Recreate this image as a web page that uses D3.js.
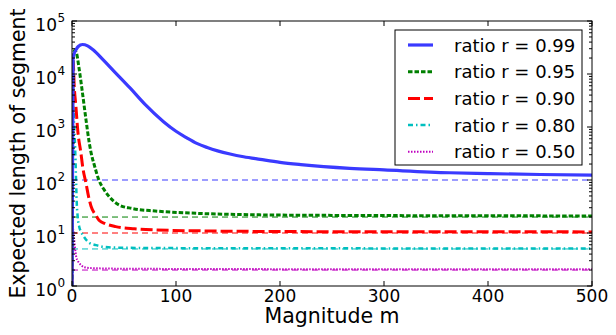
<!DOCTYPE html>
<html><head><meta charset="utf-8">
<script src="https://cdn.jsdelivr.net/npm/d3@7"></script>
<style>body{margin:0;background:#fff;} svg{display:block;} text{font-family:"DejaVu Sans",sans-serif;fill:#000;}</style>
</head><body><svg id="c" width="616" height="335"></svg>
<script>
// ---- data ----
const seriesNames = ["ratio r = 0.99","ratio r = 0.95","ratio r = 0.90","ratio r = 0.80","ratio r = 0.50"];
const asymptotes = [100, 20, 10, 5, 2];
const xTicks = [0,100,200,300,400,500];
const yTickExps = [0,1,2,3,4,5];

const m99 = [0,1,2,4,6,10,15,20,30,40,56,70,88,100,110,120,130,140,152,165,181,200,220,267,300,363,400,450,500];
const v99 = [1,20000,24000,29000,33000,36000,34000,29000,18500,11500,5400,2700,1260,830,630,490,410,355,310,275,245,215,195,166,155,137,132,127,124];

const m95 = [0,1,2.6,4,7,10,13.5,16.7,18.3,21.5,26,31,36,45,58,80,120,180,250,350,500];
const v95 = [1,22000,28000,26000,12000,4500,1350,490,330,190,98,65,48,34,29,26,23.5,22,21.5,21.2,21];

const m90 = [0,1,2.2,3.8,5.5,8.7,10.3,13.5,16,18.3,23,26,32,42,60,81,120,181,300,500];
const v90 = [1,18000,5600,2400,870,310,176,86,48,32,21.5,17.4,15,13.2,12,11.4,11,10.7,10.55,10.5];

const m80 = [0,1,2,3,3.8,4.5,5.5,7,8.7,11.8,16.7,23,30,42,80,200,500];
const v80 = [1,2500,1200,400,120,40,20,13,10.6,8.3,6.5,5.9,5.5,5.3,5.2,5.15,5.1];

const m50 = [0,1,2,3,4,5.5,7,9,12,20,50,200,500];
const v50 = [1,12,8,5,3.6,3,2.7,2.45,2.25,2.17,2.12,2.08,2.06];

const colors = ["#3a3aff","#008000","#ff0000","#00bfbf","#bf00bf"];
const widths = [3.2,3,3,2.5,2];
const dashes = [null,"4.5,2","12,4","5,3,1.5,3","1.5,1.5"];

const xs = [m99,m95,m90,m80,m50], ys = [v99,v95,v90,v80,v50];

// ---- layout ----
const L=72,R=592,T=21,B=286;
const svg=d3.select("#c");
const x=d3.scaleLinear().domain([0,500]).range([L,R]);
const y=d3.scaleLog().domain([1,1e5]).range([B,T]);

svg.append("defs").append("clipPath").attr("id","clip").append("rect")
  .attr("x",L).attr("y",T).attr("width",R-L).attr("height",B-T);

const g=svg.append("g").attr("clip-path","url(#clip)");
// asymptotes
asymptotes.forEach((a,i)=>{
  g.append("line").attr("x1",x(0)).attr("x2",x(500)).attr("y1",y(a)).attr("y2",y(a))
   .attr("stroke",colors[i]).attr("stroke-width",1).attr("stroke-dasharray","6,4");
});
// curves
const line=d3.line().x(d=>x(d[0])).y(d=>y(d[1])).curve(d3.curveMonotoneX);
for(let i=4;i>=0;i--){
  const data=xs[i].map((mm,j)=>[mm,ys[i][j]]);
  g.append("path").datum(data).attr("d",line).attr("fill","none")
   .attr("stroke",colors[i]).attr("stroke-width",widths[i])
   .attr("stroke-dasharray",dashes[i]).attr("stroke-linejoin","round");
}

// frame
svg.append("rect").attr("x",L).attr("y",T).attr("width",R-L).attr("height",B-T)
  .attr("fill","none").attr("stroke","#000").attr("stroke-width",1);

// x ticks (inward, bottom and top)
const tk=svg.append("g").attr("stroke","#000").attr("stroke-width",1);
xTicks.forEach(t=>{
  tk.append("line").attr("x1",x(t)).attr("x2",x(t)).attr("y1",B).attr("y2",B-5);
  tk.append("line").attr("x1",x(t)).attr("x2",x(t)).attr("y1",T).attr("y2",T+5);
  svg.append("text").attr("x",x(t)).attr("y",302).attr("text-anchor","middle")
    .attr("font-size",17).text(t);
});
// y ticks
yTickExps.forEach(e=>{
  const v=Math.pow(10,e), yy=y(v);
  tk.append("line").attr("x1",L).attr("x2",L+5).attr("y1",yy).attr("y2",yy);
  tk.append("line").attr("x1",R).attr("x2",R-5).attr("y1",yy).attr("y2",yy);
  svg.append("text").attr("x",57).attr("y",yy+10).attr("text-anchor","end").attr("font-size",17).text("10");
  svg.append("text").attr("x",57.5).attr("y",yy+1).attr("text-anchor","start").attr("font-size",12).text(e);
  if(e<5){
    for(let k=2;k<=9;k++){
      const ym=y(k*v);
      tk.append("line").attr("x1",L).attr("x2",L+3).attr("y1",ym).attr("y2",ym);
      tk.append("line").attr("x1",R).attr("x2",R-3).attr("y1",ym).attr("y2",ym);
    }
  }
});

// axis labels
svg.append("text").attr("x",(L+R)/2).attr("y",323).attr("text-anchor","middle")
  .attr("font-size",20.5).text("Magnitude m");
svg.append("text").attr("transform",`translate(25,${(T+B)/2}) rotate(-90)`)
  .attr("text-anchor","middle").attr("font-size",20.5).text("Expected length of segment");

// legend
const lg=svg.append("g");
lg.append("rect").attr("x",395).attr("y",30).attr("width",187).attr("height",135)
  .attr("fill","#fff").attr("stroke","#000").attr("stroke-width",1);
seriesNames.forEach((n,i)=>{
  const cy=45+i*26.7;
  lg.append("line").attr("x1",408).attr("x2",433).attr("y1",cy).attr("y2",cy)
    .attr("stroke",colors[i]).attr("stroke-width",widths[i]).attr("stroke-dasharray",dashes[i]);
  lg.append("text").attr("x",454).attr("y",cy+6.5).attr("font-size",18).text(n);
});
</script></body></html>
